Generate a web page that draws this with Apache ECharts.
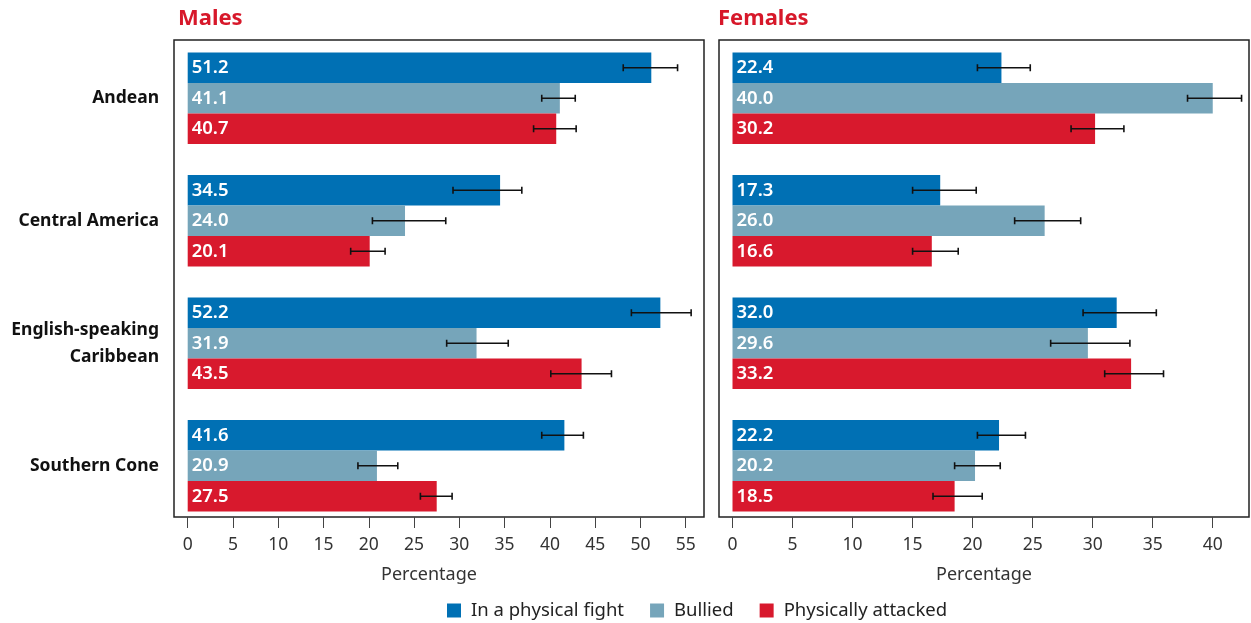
<!DOCTYPE html>
<html><head><meta charset="utf-8">
<script src="https://cdn.jsdelivr.net/npm/echarts@6/dist/echarts.min.js"></script>
<style>html,body{margin:0;padding:0;background:#fff}#c{width:1251px;height:623px}</style>
</head><body><div id="c"></div>
<script>
const categories = ['Andean', 'Central America', 'English-speaking\nCaribbean', 'Southern Cone'];
const seriesNames = ['In a physical fight', 'Bullied', 'Physically attacked'];
const colors = ['#0070b4', '#76a5ba', '#d8192d'];

const maleFight    = [51.2, 34.5, 52.2, 41.6];
const maleBullied  = [41.1, 24.0, 31.9, 20.9];
const maleAttacked = [40.7, 20.1, 43.5, 27.5];
const maleFightErr    = [[48.1, 54.1], [29.3, 36.9], [49.0, 55.6], [39.1, 43.7]];
const maleBulliedErr  = [[39.1, 42.8], [20.4, 28.5], [28.6, 35.4], [18.8, 23.2]];
const maleAttackedErr = [[38.2, 42.9], [18.0, 21.8], [40.1, 46.8], [25.7, 29.2]];

const femaleFight    = [22.4, 17.3, 32.0, 22.2];
const femaleBullied  = [40.0, 26.0, 29.6, 20.2];
const femaleAttacked = [30.2, 16.6, 33.2, 18.5];
const femaleFightErr    = [[20.4, 24.8], [15.0, 20.3], [29.2, 35.3], [20.4, 24.4]];
const femaleBulliedErr  = [[37.9, 42.4], [23.5, 29.0], [26.5, 33.1], [18.5, 22.3]];
const femaleAttackedErr = [[28.2, 32.6], [15.0, 18.8], [31.0, 35.9], [16.7, 20.8]];

const maleTicks = [0, 5, 10, 15, 20, 25, 30, 35, 40, 45, 50, 55];
const femaleTicks = [0, 5, 10, 15, 20, 25, 30, 35, 40];

const BAR_W = 30.5;
const FONT = '"Noto Sans", sans-serif';

const chart = echarts.init(document.getElementById('c'), null, {renderer: 'canvas'});

function errRender(k) {
  return function (params, api) {
    const lo = api.coord([api.value(0), api.value(2)]);
    const hi = api.coord([api.value(1), api.value(2)]);
    const y = lo[1] + (k - 1) * BAR_W;
    const h = 3.5;
    const st = {stroke: '#111', lineWidth: 1.6};
    return {type: 'group', children: [
      {type: 'line', shape: {x1: lo[0], y1: y, x2: hi[0], y2: y}, style: st},
      {type: 'line', shape: {x1: lo[0], y1: y - h, x2: lo[0], y2: y + h}, style: st},
      {type: 'line', shape: {x1: hi[0], y1: y - h, x2: hi[0], y2: y + h}, style: st}
    ]};
  };
}

function barSeries(name, data, k, axisIdx) {
  return {
    name: name, type: 'bar', data: data, xAxisIndex: axisIdx, yAxisIndex: axisIdx,
    barWidth: BAR_W, barGap: '0%', itemStyle: {color: colors[k]},
    label: {show: true, position: 'insideLeft', distance: 4, color: '#fff',
      fontFamily: FONT, fontSize: 18.5, fontWeight: 600,
      formatter: p => p.value.toFixed(1)},
    z: 2
  };
}
function errSeries(errs, k, axisIdx) {
  return {
    name: 'err' + axisIdx + k, type: 'custom', xAxisIndex: axisIdx, yAxisIndex: axisIdx,
    data: errs.map((e, i) => [e[0], e[1], i]),
    encode: {x: [0, 1], y: 2}, renderItem: errRender(k), z: 5, silent: true
  };
}

function visibleX(grid, min, max, ticks, namePad) {
  return {
    type: 'value', gridIndex: grid, min: min, max: max, offset: 1,
    axisLine: {show: false}, splitLine: {show: false},
    axisTick: {show: true, customValues: ticks, length: 11, lineStyle: {color: '#444', width: 1}},
    axisLabel: {customValues: ticks, margin: 18, color: '#333', fontFamily: FONT, fontSize: 17.5},
    name: 'Percentage', nameLocation: 'middle', nameGap: 48,
    nameTextStyle: {color: '#333', fontFamily: FONT, fontSize: 18, padding: namePad}
  };
}
function hiddenX(grid, min, max) {
  return {type: 'value', gridIndex: grid, min: min, max: max, show: false, splitLine: {show: false}};
}

const option = {
  backgroundColor: '#fff',
  animation: false,
  title: [
    {text: 'Males', left: 178, top: 8, padding: 0,
      textStyle: {color: '#d7182a', fontFamily: FONT, fontSize: 22, fontWeight: 'bold'}},
    {text: 'Females', left: 718, top: 8, padding: 0,
      textStyle: {color: '#d7182a', fontFamily: FONT, fontSize: 22, fontWeight: 'bold'}}
  ],
  legend: {
    data: seriesNames, left: 447, top: 601, padding: 0, itemWidth: 14, itemHeight: 14,
    itemGap: 26, icon: 'rect',
    textStyle: {color: '#222', fontFamily: FONT, fontSize: 18.5, padding: [0, 0, 0, 5]}
  },
  grid: [
    {left: 174, top: 40, width: 530, height: 477, show: true, borderColor: '#222', borderWidth: 1.5, backgroundColor: 'transparent'},
    {left: 174, top: 37, width: 530, height: 490},
    {left: 719, top: 40, width: 530, height: 477, show: true, borderColor: '#222', borderWidth: 1.5, backgroundColor: 'transparent'},
    {left: 719, top: 37, width: 530, height: 490}
  ],
  xAxis: [
    visibleX(0, -1.513, 57.02, maleTicks, [0, 20, 0, 0]),
    hiddenX(1, -1.513, 57.02),
    visibleX(2, -1.125, 43.02, femaleTicks, [0, 0, 0, 0]),
    hiddenX(3, -1.125, 43.02)
  ],
  yAxis: [
    {type: 'value', gridIndex: 0, min: 0, max: 1, show: false, splitLine: {show: false}},
    {type: 'category', gridIndex: 1, data: categories, inverse: true,
      axisLine: {show: false}, axisTick: {show: false}, splitLine: {show: false},
      axisLabel: {margin: 15, color: '#111', fontFamily: FONT, fontSize: 17.5, fontWeight: 'bold', lineHeight: 27, align: 'right'}},
    {type: 'value', gridIndex: 2, min: 0, max: 1, show: false, splitLine: {show: false}},
    {type: 'category', gridIndex: 3, data: categories, inverse: true,
      axisLine: {show: false}, axisTick: {show: false}, axisLabel: {show: false}, splitLine: {show: false}}
  ],
  series: [
    barSeries(seriesNames[0], maleFight, 0, 1),
    barSeries(seriesNames[1], maleBullied, 1, 1),
    barSeries(seriesNames[2], maleAttacked, 2, 1),
    errSeries(maleFightErr, 0, 1),
    errSeries(maleBulliedErr, 1, 1),
    errSeries(maleAttackedErr, 2, 1),
    barSeries(seriesNames[0], femaleFight, 0, 3),
    barSeries(seriesNames[1], femaleBullied, 1, 3),
    barSeries(seriesNames[2], femaleAttacked, 2, 3),
    errSeries(femaleFightErr, 0, 3),
    errSeries(femaleBulliedErr, 1, 3),
    errSeries(femaleAttackedErr, 2, 3)
  ]
};
chart.setOption(option);
</script></body></html>
